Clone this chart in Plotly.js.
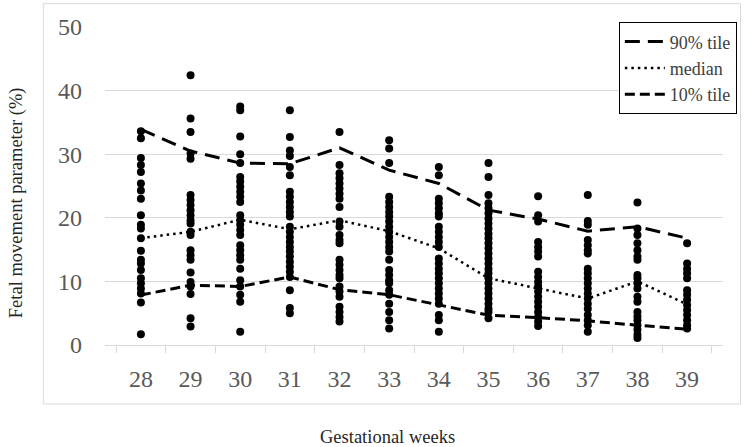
<!DOCTYPE html>
<html>
<head>
<meta charset="utf-8">
<script src="https://cdn.plot.ly/plotly-3.0.1.min.js"></script>
<style>html,body{margin:0;padding:0;background:#fff;}#chart{width:749px;height:447px;}</style>
</head>
<body>
<div id="chart"></div>
<script>
var weeks = ["28","29","30","31","32","33","34","35","36","37","38","39"];

var w28 = [33.6, 32.5, 29.4, 28.3, 27.2, 25.4, 24.3, 23.0, 20.4, 18.9, 18.3, 16.8, 14.8, 13.4, 12.8, 11.8, 10.5, 9.7, 8.9, 8.1, 6.7, 1.7];
var w29 = [42.4, 35.6, 33.5, 30.1, 29.3, 23.6, 22.8, 22.0, 21.2, 20.4, 19.6, 19.1, 17.8, 17.3, 14.9, 14.1, 13.4, 11.4, 9.9, 9.2, 8.0, 4.2, 2.9];
var w30 = [37.5, 36.9, 32.8, 30.0, 28.6, 26.4, 25.7, 24.9, 24.1, 23.3, 22.5, 20.4, 19.6, 18.9, 18.1, 17.3, 15.7, 14.9, 14.1, 13.4, 12.0, 10.2, 9.2, 7.9, 6.8, 2.1];
var w31 = [36.9, 32.7, 30.6, 29.7, 28.0, 26.7, 24.1, 23.3, 22.5, 21.7, 20.9, 20.2, 18.6, 17.8, 17.0, 16.2, 15.4, 14.7, 13.9, 13.1, 12.3, 11.5, 10.7, 8.6, 5.8, 5.0];
var w32 = [33.5, 28.3, 27.0, 26.2, 25.4, 24.6, 23.8, 23.0, 21.7, 19.4, 18.6, 17.3, 16.5, 16.0, 13.4, 12.6, 11.8, 11.0, 10.5, 9.2, 8.4, 7.6, 6.0, 5.2, 4.4, 3.7];
var w33 = [32.2, 30.9, 28.6, 23.3, 22.5, 21.7, 20.9, 20.2, 19.4, 18.6, 17.8, 17.0, 16.2, 15.4, 14.7, 13.4, 11.8, 11.0, 10.2, 9.7, 8.6, 7.9, 6.5, 5.2, 3.9, 2.6];
var w34 = [28.0, 26.7, 23.0, 22.3, 21.5, 20.7, 20.2, 18.6, 17.8, 17.0, 16.2, 15.4, 13.6, 12.8, 12.0, 11.3, 10.5, 9.7, 8.9, 8.1, 7.3, 6.5, 4.7, 3.9, 2.1];
var w35 = [28.6, 26.4, 23.6, 22.3, 21.5, 20.7, 19.9, 19.1, 18.3, 17.5, 16.8, 16.0, 15.2, 14.4, 13.6, 12.8, 12.0, 11.3, 10.5, 9.7, 8.9, 8.1, 7.3, 6.5, 5.7, 5.2, 4.2];
var w36 = [23.4, 20.4, 19.4, 16.2, 15.4, 14.7, 13.9, 11.5, 10.7, 9.9, 9.2, 8.4, 7.6, 6.8, 6.0, 5.2, 4.4, 3.7, 3.0];
var w37 = [23.6, 19.5, 18.9, 16.5, 15.7, 14.9, 14.4, 12.0, 11.3, 10.5, 9.7, 8.9, 8.1, 7.3, 6.5, 5.7, 4.7, 3.9, 3.1, 2.1];
var w38 = [22.4, 18.3, 17.3, 16.0, 14.9, 13.9, 13.4, 11.0, 10.5, 9.7, 8.9, 7.6, 6.8, 5.2, 4.5, 3.9, 3.1, 2.4, 1.6, 1.1];
var w39 = [16.0, 12.8, 12.0, 11.3, 10.5, 8.6, 7.9, 7.1, 6.3, 5.5, 4.7, 3.9, 3.1, 2.6];

var p90    = [33.9, 30.5, 28.6, 28.5, 31.0, 27.5, 25.4, 21.2, 19.8, 17.9, 18.6, 16.8];
var median = [16.8, 17.8, 19.7, 18.2, 19.6, 17.9, 15.2, 10.5, 8.9, 7.3, 10.0, 6.4];
var p10    = [7.85, 9.4, 9.2, 10.7, 8.7, 7.9, 6.3, 4.7, 4.3, 3.8, 3.1, 2.5];

var yTicks = [0, 10, 20, 30, 40, 50];

var columns = [w28, w29, w30, w31, w32, w33, w34, w35, w36, w37, w38, w39];
var px = [], py = [];
columns.forEach(function (col, i) {
  col.forEach(function (v) { px.push(weeks[i]); py.push(v); });
});

var FONT = "Liberation Serif";

var traces = [
  {type: "scatter", mode: "markers", x: px, y: py, showlegend: false, hoverinfo: "skip",
   marker: {color: "#000000", size: 8}},
  {type: "scatter", mode: "lines", x: weeks, y: p90, name: "90% tile",
   line: {color: "#000000", width: 3, dash: "15px,8px"}},
  {type: "scatter", mode: "lines", x: weeks, y: median, name: "median",
   line: {color: "#000000", width: 2.5, dash: "2.5px,4px"}},
  {type: "scatter", mode: "lines", x: weeks, y: p10, name: "10% tile",
   line: {color: "#000000", width: 3, dash: "10px,5px"}}
];

var layout = {
  width: 749, height: 447,
  margin: {l: 105, r: 20, t: 27, b: 102},
  paper_bgcolor: "#ffffff", plot_bgcolor: "#ffffff",
  font: {family: FONT, color: "#595959"},
  xaxis: {
    type: "category", categoryorder: "array", categoryarray: weeks,
    tickson: "boundaries", ticks: "outside", ticklen: 7, tickcolor: "#d9d9d9",
    showline: true, linecolor: "#d9d9d9", linewidth: 1,
    showgrid: false, zeroline: false,
    tickfont: {family: FONT, size: 24, color: "#595959"},
    ticklabelstandoff: 12, fixedrange: true
  },
  yaxis: {
    range: [0, 50], tickvals: yTicks, ticktext: yTicks.map(String),
    showgrid: true, gridcolor: "#d9d9d9", gridwidth: 1,
    zeroline: false, showline: false, ticks: "",
    tickfont: {family: FONT, size: 24, color: "#595959"},
    ticklabelstandoff: 22, fixedrange: true
  },
  legend: {
    x: 1.0224, y: 1.0148, xanchor: "right", yanchor: "top",
    bgcolor: "#ffffff", bordercolor: "#000000", borderwidth: 1,
    font: {family: FONT, size: 18, color: "#404040"},
    itemwidth: 40, tracegroupgap: 0
  },
  shapes: [
    {type: "rect", xref: "paper", yref: "paper", x0: -0.0998, x1: 1.0284, y0: -0.1854, y1: 1.0735,
     line: {color: "#d9d9d9", width: 1}, fillcolor: "rgba(0,0,0,0)", layer: "below"}
  ],
  annotations: [
    {text: "Gestational weeks", xref: "paper", yref: "paper", x: 0.457, y: -0.289,
     xanchor: "center", yanchor: "middle", showarrow: false,
     font: {family: FONT, size: 18.5, color: "#262626"}},
    {text: "Fetal movement parameter (%)", xref: "paper", yref: "paper", x: -0.144, y: 0.446,
     xanchor: "center", yanchor: "middle", showarrow: false, textangle: -90,
     font: {family: FONT, size: 18.5, color: "#262626"}}
  ]
};

Plotly.newPlot("chart", traces, layout, {displayModeBar: false, staticPlot: true});
</script>
</body>
</html>
